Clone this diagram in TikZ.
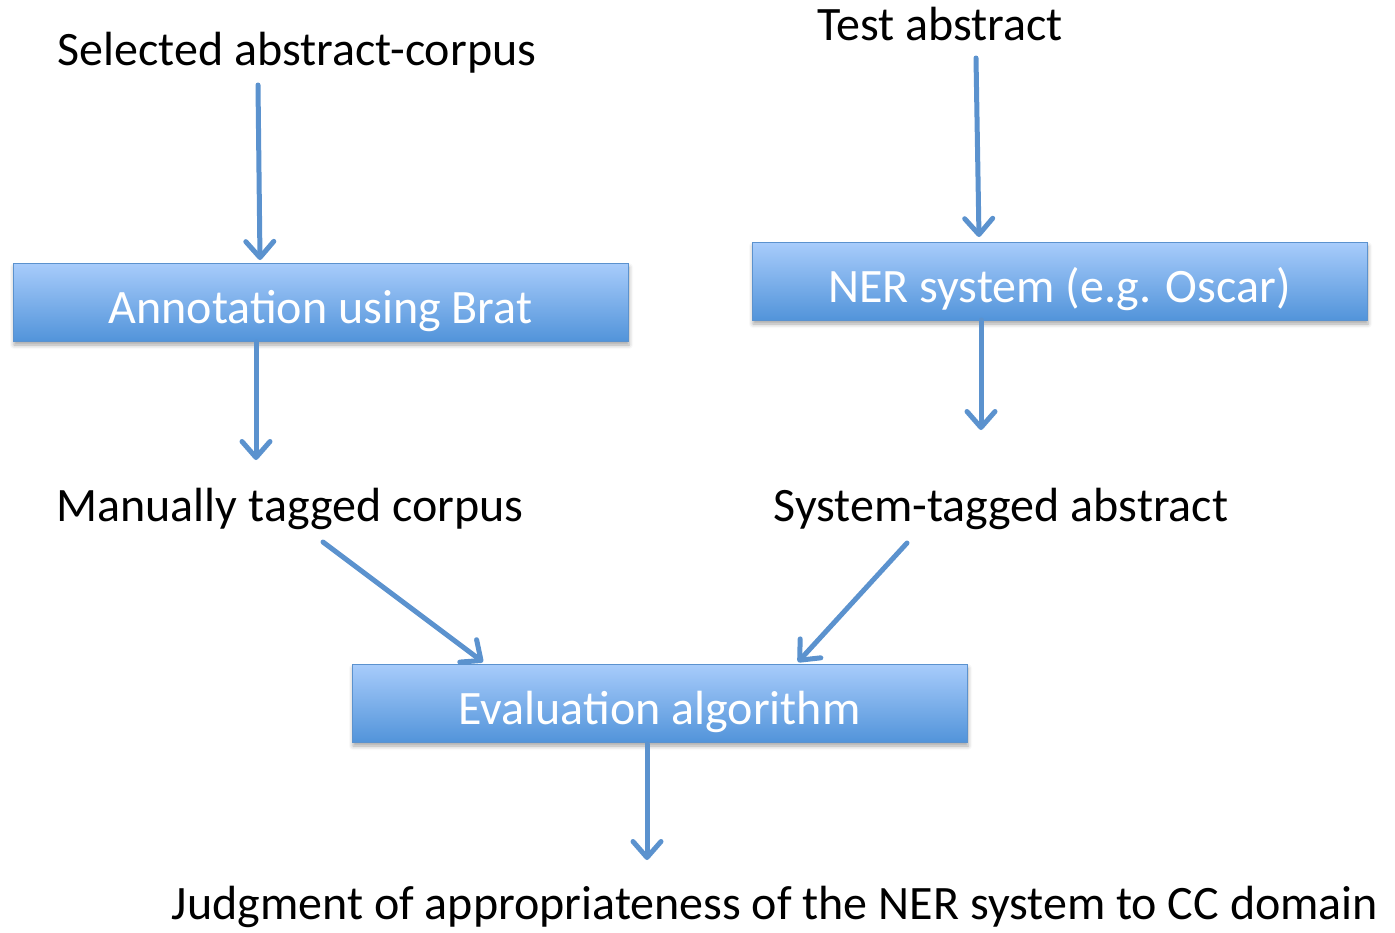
\documentclass[tikz,border=0pt]{standalone}
\usepackage{fontspec}
\setmainfont{Carlito}
\usepackage{tikz}
\usetikzlibrary{arrows.meta,shadows.blur}

\definecolor{flowblue}{RGB}{91,146,206}
\definecolor{boxtop}{RGB}{168,204,251}
\definecolor{boxbot}{RGB}{82,148,218}

\begin{document}
\begin{tikzpicture}[x=1pt,y=-1pt,
	flow/.style={draw=flowblue,line width=5pt,line cap=round,
		-{Straight Barb[length=16pt,width=28pt,line width=5pt,round]}}, % arrow style
	stepbox/.style={rectangle,draw=flowblue,line width=1pt,
		top color=boxtop,bottom color=boxbot,
		minimum width=615pt,minimum height=78pt,
		blur shadow={shadow xshift=1pt,shadow yshift=-4pt,shadow blur radius=4pt,shadow opacity=35}},
	boxtext/.style={text=white,font=\fontsize{48}{54}\selectfont,anchor=base},
	label/.style={font=\fontsize{48}{54}\selectfont,inner sep=0pt,anchor=base}]
	\useasboundingbox (0,0) rectangle (1395,932);

	% boxes
	\node[stepbox] (ann) at (320.5,302)	{};
	\node[stepbox] (ner) at (1059.5,281)	{};
	\node[stepbox] (eva) at (659.5,703)	{};
	\node[boxtext] (anntxt) at ([yshift=-21pt]ann.center) {Annotation using Brat};
	\node[boxtext] (nertxt) at ([yshift=-21pt]ner.center) {NER system (e.g. Oscar)};
	\node[boxtext] (evatxt) at ([yshift=-21pt]eva.center) {Evaluation algorithm};

	% plain texts
	\node[label] (sel) at (297,65)	{Selected abstract-corpus};
	\node[label] (tst) at (940,40)	{Test abstract};
	\node[label] (man) at (290,521)	{Manually tagged corpus};
	\node[label] (sys) at (1001,521)	{System-tagged abstract};
	\node[label] (jud) at (775,919)	{Judgment of appropriateness of the NER system to CC domain};

	% arrow ends
	\coordinate (s1) at (258,85);
	\coordinate (s2) at (256,342);
	\coordinate (e2) at (256,460);
	\coordinate (s3) at (976,58);
	\coordinate (s4) at (981,320);
	\coordinate (e4) at (981,430);
	\coordinate (s5) at (323,542);
	\coordinate (e5) at (483,662);
	\coordinate (s6) at (907,543);
	\coordinate (e6) at (798,662);
	\coordinate (s7) at (647,744);
	\coordinate (e7) at (647,860);

	\draw[flow] (s1) -- (260,260);
	\draw[flow] (s2) -- (e2);
	\draw[flow] (s3) -- (979,237);
	\draw[flow] (s4) -- (e4);
	\draw[flow] (s5) -- (e5);
	\draw[flow] (s6) -- (e6);
	\draw[flow] (s7) -- (e7);
\end{tikzpicture}
\end{document}
